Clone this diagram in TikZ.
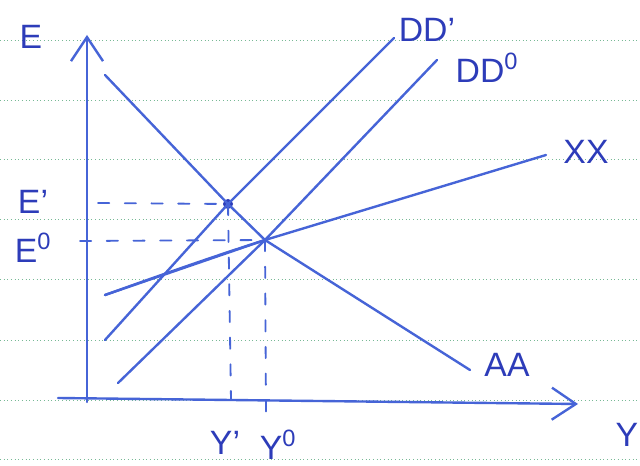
\documentclass[tikz,border=0pt]{standalone}
\usepackage{fontspec}
\setmainfont{Liberation Sans}
\usetikzlibrary{arrows.meta}

\definecolor{ink}{RGB}{70,100,215}
\definecolor{inkdark}{RGB}{45,60,185}
\definecolor{paperrule}{RGB}{120,185,150}

\begin{document}
\begin{tikzpicture}[x=0.025cm, y=-0.025cm,
  curve/.style={ink, line width=1.7pt, line cap=round, line join=round},
  axis/.style={ink, line width=1.7pt, line cap=round, -{Straight Barb[length=6mm,width=8mm]}},
  guide/.style={ink, line width=1.3pt, line cap=round, dash pattern=on 8pt off 11pt},
  lbl/.style={text=inkdark, font=\fontsize{24}{26}\selectfont, inner sep=0pt}]

% Paper
\useasboundingbox (0,0) rectangle (640,466);
\fill[white] (0,0) rectangle (640,466);
\foreach \y in {40,100,159,219,279,340,400,459}
  \draw[paperrule, dotted, line width=0.6pt] (0,\y) -- (640,\y);

% Axes
\coordinate (origin) at (87,402);
\coordinate (ytop) at (87,35);
\coordinate (xstart) at (58,398);
\coordinate (xend) at (578,404);
\draw[axis] (origin) -- (ytop);
\draw[axis] (xstart) -- (xend);
\node[lbl] (Elab) at (31,37) {E};
\node[lbl] (Ylab) at (627,435) {Y};

% Equilibria
\coordinate (E1) at (228,204);
\coordinate (E0) at (265,240);
\fill[inkdark] (E1) circle (5);

% AA
\coordinate (AAa) at (105,75);
\coordinate (AAb) at (470,370);
\draw[curve] (AAa) -- (E1) -- (E0) -- (AAb);
\node[lbl] (AAlab) at (507,365) {AA};

% DD curves
\coordinate (DD1a) at (105,340);
\coordinate (DD1b) at (394,38);
\draw[curve] (DD1a) -- (E1) -- (DD1b);
\node[lbl] (DD1lab) at (427,30) {DD'};
\coordinate (DD0a) at (118,383);
\coordinate (DD0b) at (437,60);
\draw[curve] (DD0a) -- (E0) -- (DD0b);
\node[lbl] (DD0lab) at (487,68) {DD\textsuperscript{0}};

% XX
\coordinate (XXa) at (105,295);
\coordinate (XXb) at (546,155);
\draw[curve] (XXa) -- (E0) -- (XXb);
\draw[curve] (XXa) .. controls (175,270) and (215,256) .. (E0);
\node[lbl] (XXlab) at (586,152) {XX};

% Dashed guides
\node[lbl] (E1lab) at (33,202) {E'};
\node[lbl] (E0lab) at (33,248) {E\textsuperscript{0}};
\coordinate (E1left) at (98,203);
\coordinate (E0left) at (80,241);
\draw[guide] (E1left) -- (E1);
\draw[guide] (E0left) -- (E0);
\coordinate (Y1foot) at (231,400);
\coordinate (Y0foot) at (266,412);
\draw[guide] (E1) -- (Y1foot);
\draw[guide] (E0) -- (Y0foot);
\node[lbl] (Y1lab) at (225,443) {Y'};
\node[lbl] (Y0lab) at (278,445) {Y\textsuperscript{0}};

\end{tikzpicture}
\end{document}
